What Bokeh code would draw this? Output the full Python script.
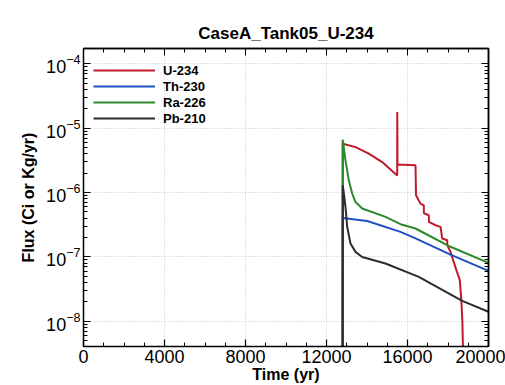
from bokeh.plotting import figure
from bokeh.models import (LinearAxis, LogAxis, FixedTicker, Legend, LegendItem,
                          Range1d)
from bokeh.embed import file_html
from bokeh.resources import INLINE

# ---- data ----
title_text = "CaseA_Tank05_U-234"
series_names = ["U-234", "Th-230", "Ra-226", "Pb-210"]

time_u234 = [12790, 12805, 13432, 14089, 14750, 15491, 15495, 15506, 16395, 16420,
             16642, 16805, 16810, 17052, 17060, 17383, 17630, 17714, 17960, 17965,
             18123, 18286, 18420, 18583, 18660, 18710, 18850]
flux_u234 = [1e-12, 5.75e-6, 5.09e-6, 4.03e-6, 2.98e-6, 1.85e-6, 1.78e-5, 2.72e-6, 2.65e-6, 9.08e-7,
             6.74e-7, 6.35e-7, 4.77e-7, 4.45e-7, 3.50e-7, 3.11e-7, 2.93e-7, 1.94e-7, 1.82e-7, 1.52e-7,
             1.20e-7, 8.3e-8, 6.2e-8, 4.37e-8, 2.1e-8, 1.0e-8, 1e-10]

time_th230 = [12790, 12800, 14010, 15654, 16395, 18123, 20000]
flux_th230 = [1e-12, 4.04e-7, 3.63e-7, 2.45e-7, 1.94e-7, 1.09e-7, 6.1e-8]

time_ra226 = [12790, 12800, 12938, 13101, 13269, 13432, 13763, 14914, 15654, 16395, 18123, 20000]
flux_ra226 = [1e-12, 6.64e-6, 3.17e-6, 1.55e-6, 9.64e-7, 7.14e-7, 5.65e-7, 4.19e-7, 3.23e-7, 2.77e-7, 1.44e-7, 8.1e-8]

time_pb210 = [12790, 12805, 12938, 13022, 13185, 13432, 13763, 14914, 16558, 18701, 20000]
flux_pb210 = [1e-12, 1.30e-6, 5.98e-7, 2.93e-7, 1.62e-7, 1.20e-7, 1.00e-7, 7.92e-8, 4.91e-8, 2.08e-8, 1.41e-8]

x_major = [0, 4000, 8000, 12000, 16000, 20000]
x_minor = list(range(0, 20001, 1000))
y_major = [1e-8, 1e-7, 1e-6, 1e-5, 1e-4]
y_minor = [m * 10.0 ** e for e in range(-9, -3) for m in range(2, 10)]

colors = ["#c21a2c", "#1f4fc4", "#2a8a2a", "#2b2b33"]

FONT = "Liberation Sans"

p = figure(width=505, height=385, y_axis_type="log",
           x_range=Range1d(0, 20000), y_range=Range1d(4.07e-9, 1.73e-4),
           output_backend="svg", toolbar_location=None,
           min_border_left=83, min_border_right=17, min_border_top=48, min_border_bottom=39,
           background_fill_color="white", border_fill_color="white")

p.title.text = title_text
p.title.align = "center"
p.title.text_font = FONT
p.title.text_font_style = "bold"
p.title.text_font_size = "17px"
p.title.text_color = "black"
p.title.standoff = 12


def style_axis(ax):
    ax.axis_line_width = 1.5
    ax.axis_line_color = "black"
    ax.major_tick_in = 7
    ax.major_tick_out = 0
    ax.minor_tick_in = 4
    ax.minor_tick_out = 0
    ax.major_tick_line_color = "black"
    ax.minor_tick_line_color = "black"
    ax.major_tick_line_width = 1.2
    ax.minor_tick_line_width = 1
    ax.major_label_text_font = FONT
    ax.major_label_text_font_size = "18px"
    ax.major_label_text_color = "black"
    ax.axis_label_text_font = FONT
    ax.axis_label_text_font_style = "bold"
    ax.axis_label_text_font_size = "16px"
    ax.axis_label_text_color = "black"


xa = p.xaxis[0]
xa.ticker = FixedTicker(ticks=x_major, minor_ticks=x_minor)
xa.axis_label = "Time (yr)"
style_axis(xa)
xa.major_label_standoff = 3
xa.axis_label_standoff = 0

ya = p.yaxis[0]
ya.ticker = FixedTicker(ticks=y_major, minor_ticks=y_minor)
ya.axis_label = "Flux (Ci or Kg/yr)"
style_axis(ya)
ya.major_label_standoff = 3
ya.axis_label_standoff = 6

# label-free frame ticks on top and right (ticks only, no major ticks -> no labels)
for ticks, length in ((x_minor, 4), (x_major, 7)):
    ax = LinearAxis(ticker=FixedTicker(ticks=[], minor_ticks=ticks))
    style_axis(ax)
    ax.minor_tick_in = length
    ax.major_label_standoff = 0
    p.add_layout(ax, "above")
for ticks, length in ((y_minor, 4), (y_major, 7)):
    ax = LogAxis(ticker=FixedTicker(ticks=[], minor_ticks=ticks))
    style_axis(ax)
    ax.minor_tick_in = length
    ax.major_label_standoff = 0
    p.add_layout(ax, "right")

p.outline_line_color = "black"
p.outline_line_width = 1

p.xgrid.ticker = FixedTicker(ticks=x_major)
p.ygrid.ticker = FixedTicker(ticks=y_major)
for g in (p.xgrid[0], p.ygrid[0]):
    g.grid_line_color = "#c4c4c4"
    g.grid_line_dash = "1 2"
    g.grid_line_width = 1

xs = [time_u234, time_th230, time_ra226, time_pb210]
ys = [flux_u234, flux_th230, flux_ra226, flux_pb210]
renderers = []
for t, f, c in zip(xs, ys, colors):
    renderers.append(p.line(t, f, line_color=c, line_width=2))

legend = Legend(items=[LegendItem(label=n, renderers=[r]) for n, r in zip(series_names, renderers)],
                location=(10, 220), orientation="vertical",
                glyph_width=62, glyph_height=16, label_height=16, spacing=0,
                label_standoff=8, padding=0, margin=0,
                label_text_font=FONT, label_text_font_style="bold", label_text_font_size="13px",
                label_text_color="black",
                border_line_color=None, background_fill_alpha=0)
p.add_layout(legend, "center")

open("out.html", "w").write(file_html(p, INLINE))
